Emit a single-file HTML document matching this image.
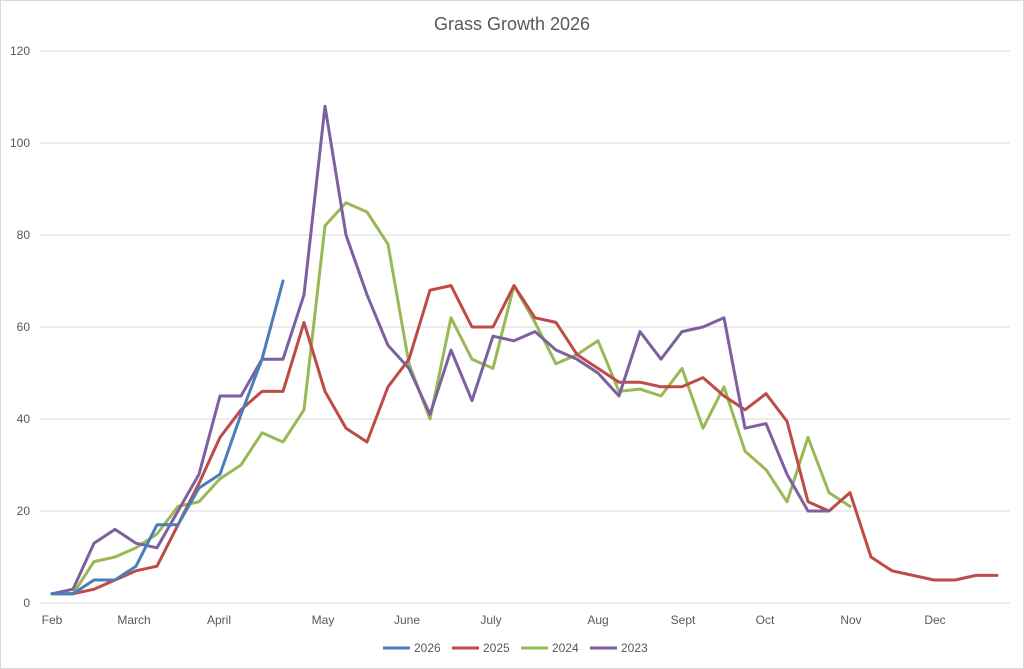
<!DOCTYPE html>
<html><head><meta charset="utf-8"><style>
html,body{margin:0;padding:0;background:#fff}
svg{display:block;font-family:"Liberation Sans",sans-serif}
</style></head><body>
<svg id="c" width="1024" height="669" xmlns="http://www.w3.org/2000/svg">
<rect x="0.5" y="0.5" width="1023" height="668" fill="#fff" stroke="#d9d9d9"/>
<text x="512" y="30" text-anchor="middle" font-size="18" fill="#595959">Grass Growth 2026</text>
<g id="grid" stroke="#d9d9d9" stroke-width="1"></g>
<g id="lab" font-size="12" fill="#595959"></g>
<g id="lines" fill="none" stroke-width="3" stroke-linejoin="round" stroke-linecap="round"></g>
<g font-size="12" fill="#595959">
<line x1="383" y1="648" x2="410" y2="648" stroke="#4a7ebb" stroke-width="3"/><text x="414" y="652">2026</text>
<line x1="452" y1="648" x2="479" y2="648" stroke="#be4b48" stroke-width="3"/><text x="483" y="652">2025</text>
<line x1="521" y1="648" x2="548" y2="648" stroke="#98b954" stroke-width="3"/><text x="552" y="652">2024</text>
<line x1="590" y1="648" x2="617" y2="648" stroke="#7d60a0" stroke-width="3"/><text x="621" y="652">2023</text>
</g>
</svg>
<script>
const ns="http://www.w3.org/2000/svg";
function el(p,t,a,txt){const e=document.createElementNS(ns,t);for(const k in a)e.setAttribute(k,a[k]);if(txt!==undefined)e.textContent=txt;p.appendChild(e);}
const Y=v=>603-v*4.6, X=i=>52+i*21.0;
const g=document.getElementById('grid'),l=document.getElementById('lab');
for(let v=0;v<=120;v+=20){el(g,'line',{x1:40,x2:1010,y1:Y(v),y2:Y(v)});el(l,'text',{x:30,y:Y(v)+4,'text-anchor':'end'},v);}
const m=[["Feb",52],["March",134],["April",219],["May",323],["June",407],["July",491],["Aug",598],["Sept",683],["Oct",765],["Nov",851],["Dec",935]];
m.forEach(([t,x])=>el(l,'text',{x:x,y:624,'text-anchor':'middle'},t));
const d={
"#4a7ebb":[2,2,5,5,8,17,17,25,28,41,53,70],
"#be4b48":[2,2,3,5,7,8,17,26,36,42,46,46,61,46,38,35,47,53,68,69,60,60,69,62,61,54,51,48,48,47,47,49,45,42,45.5,39.5,22,20,24,10,7,6,5,5,6,6],
"#98b954":[2,2,9,10,12,15,21,22,27,30,37,35,42,82,87,85,78,52,40,62,53,51,69,61,52,54,57,46,46.5,45,51,38,47,33,29,22,36,24,21],
"#7d60a0":[2,3,13,16,13,12,20,28,45,45,53,53,67,108,80,67,56,51,41,55,44,58,57,59,55,53,50,45,59,53,59,60,62,38,39,28,20,20]};
const L=document.getElementById('lines');
["#98b954","#be4b48","#7d60a0","#4a7ebb"].forEach(c=>el(L,'polyline',{stroke:c,points:d[c].map((v,i)=>X(i).toFixed(1)+","+Y(v).toFixed(1)).join(" ")}));
</script>
</body></html>
